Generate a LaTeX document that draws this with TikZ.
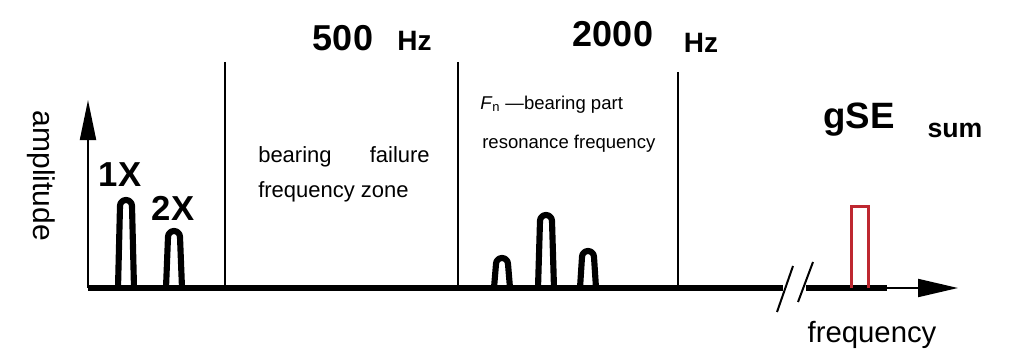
\documentclass[tikz,border=0pt]{standalone}
\usepackage{fontspec}
\setmainfont{Liberation Sans}
\usetikzlibrary{arrows.meta}
\definecolor{barred}{RGB}{190,40,48}
\tikzset{
  px/.style={x=0.75pt,y=-0.75pt},
  axisline/.style={line width=1.5pt},
  baseline/.style={line width=3.8pt},
  divider/.style={line width=1.5pt},
  peak/.style={line width=4.6pt,line join=round},
  lbl/.style={inner sep=0pt,font=\fontsize{#1}{#1}\selectfont},
  blbl/.style={inner sep=0pt,font=\fontsize{#1}{#1}\selectfont\bfseries},
  bigtip/.style={-{Triangle[length=30pt,width=12pt]}},
}
\newcommand{\peakat}[2]{\draw[peak] (#1-8,288) -- (#1-6,#2+6) arc[start angle=180,end angle=360,radius=6] -- (#1+8,288);}
\begin{document}
\begin{tikzpicture}[px]
\useasboundingbox (0,0) rectangle (1027,360);
% coordinates
\coordinate (o) at (88,288);
\coordinate (ytop) at (88,100);
\coordinate (b1) at (783,288);
\coordinate (b2) at (806,288);
\coordinate (b3) at (887,288);
\coordinate (xtip) at (958,288);
% axes
\draw[axisline,bigtip] (o) -- (ytop);
\draw[baseline] (o) -- (b1);
\draw[baseline] (b2) -- (b3);
\draw[axisline,-{Triangle[length=30pt,width=13.5pt]}] (b3) -- (xtip);
% break marks
\coordinate (s1a) at (777,312); \coordinate (s1b) at (793,266);
\coordinate (s2a) at (798,302); \coordinate (s2b) at (813,262);
\draw[line width=1.5pt] (s1a) -- (s1b);
\draw[line width=1.5pt] (s2a) -- (s2b);
% dividers
\coordinate (d1t) at (225,62); \coordinate (d1b) at (225,288);
\coordinate (d2t) at (458,62); \coordinate (d2b) at (458,288);
\coordinate (d3t) at (678,72); \coordinate (d3b) at (678,288);
\draw[divider] (d1t) -- (d1b);
\draw[divider] (d2t) -- (d2b);
\draw[divider] (d3t) -- (d3b);
% peaks
\peakat{126}{200}
\peakat{174}{231}
\peakat{502}{258}
\peakat{546}{215}
\peakat{588}{251}
% red bar
\draw[barred,line width=2.6pt] (851.5,288) -- (851.5,206.5) -- (868.5,206.5) -- (868.5,288);
% labels
\node[lbl=22.5pt,rotate=-90] (amp) at (41,176) {amplitude};
\node[blbl=26pt] (x1) at (120,175) {1X};
\node[blbl=26pt] (x2) at (173,208) {2X};
\node[blbl=27pt] (f500) at (343,38) {500};
\node[blbl=21pt] (hz1) at (414.5,41) {Hz};
\node[blbl=27pt] (f2000) at (613,34) {2000};
\node[blbl=21pt] (hz2) at (701,43) {Hz};
\node[lbl=16.5pt,anchor=base west] (bear) at (258,162) {bearing};
\node[lbl=16.5pt,anchor=base east] (fail) at (430,162) {failure};
\node[lbl=16.5pt,anchor=base west] (zone) at (258,197) {frequency zone};
\node[lbl=13.9pt,anchor=base west] (fn) at (480,109) {\textit{F}\textsubscript{n} —bearing part};
\node[lbl=13.9pt,anchor=base west] (res) at (482,148) {resonance frequency};
\node[blbl=27.5pt] (gse) at (859,120) {gSE};
\node[blbl=20pt] (sum) at (955,130) {sum};
\node[lbl=22pt] (freq) at (872,335) {frequency};
\end{tikzpicture}
\end{document}
